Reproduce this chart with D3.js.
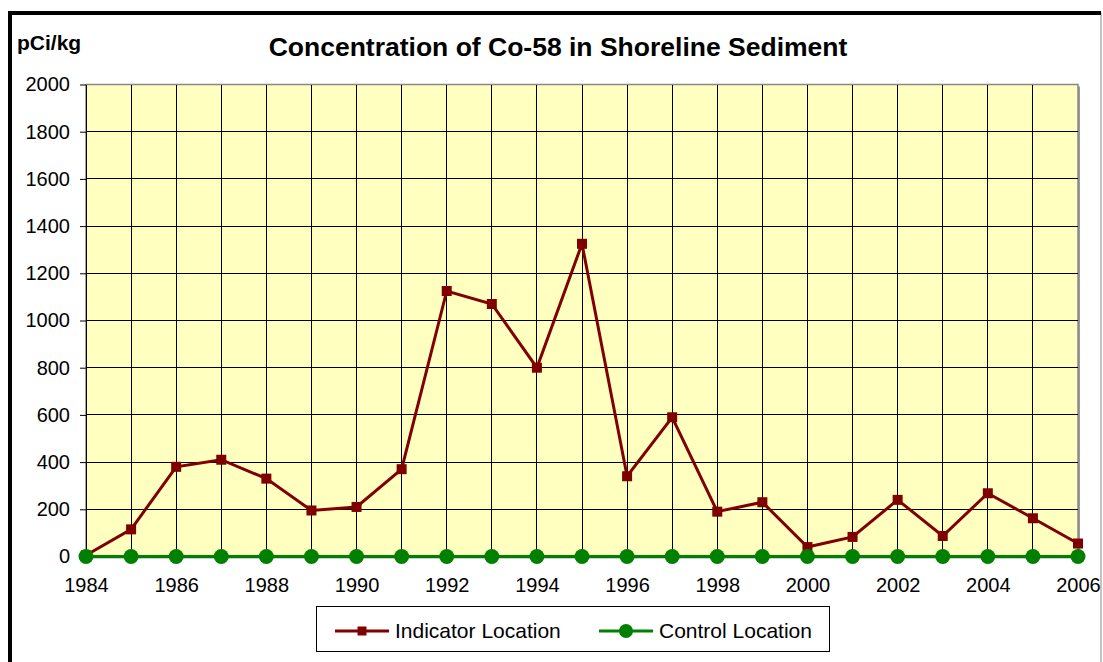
<!DOCTYPE html>
<html>
<head>
<meta charset="utf-8">
<script src="https://cdn.jsdelivr.net/npm/d3@7"></script>
<style>
  body { margin: 0; background: #fff; }
  svg { display: block; font-family: "Liberation Sans", Arial, sans-serif; }
</style>
</head>
<body>
<svg id="chart" width="1103" height="662"></svg>
<script>
const years = d3.range(1984, 2007);
const indicator = [5, 115, 380, 410, 330, 195, 210, 370, 1125, 1070, 800, 1325, 340, 590, 190, 230, 40, 83, 240, 87, 268, 162, 55];
const control = years.map(() => 0);
const yTicks = [0, 200, 400, 600, 800, 1000, 1200, 1400, 1600, 1800, 2000];
const xTicks = d3.range(1984, 2007, 2);

const svg = d3.select('#chart');
const plotL = 86, plotR = 1078, plotT = 84.5, plotB = 556.5;
const FONT = '"Liberation Sans", Arial, sans-serif';

// outer frame
svg.append('rect').attr('x', 10).attr('y', 13).attr('width', 1091).attr('height', 700)
  .attr('fill', 'none').attr('stroke', '#888').attr('stroke-width', 1);
svg.append('line').attr('x1', 10).attr('x2', 1101).attr('y1', 13).attr('y2', 13)
  .attr('stroke', '#000').attr('stroke-width', 4);
svg.append('line').attr('x1', 10).attr('x2', 10).attr('y1', 11).attr('y2', 662)
  .attr('stroke', '#000').attr('stroke-width', 4);

let x = d3.scaleLinear().domain([1984, 2006]).range([plotL, plotR]);
let y = d3.scaleLinear().domain([0, 2000]).range([plotB, plotT]);

// plot area
svg.append('rect').attr('x', plotL + 2).attr('y', plotT + 2).attr('width', plotR - plotL).attr('height', plotB - plotT)
  .attr('fill', '#999');
svg.append('rect').attr('x', plotL).attr('y', plotT).attr('width', plotR - plotL).attr('height', plotB - plotT)
  .attr('fill', '#ffffc0').attr('stroke', '#888').attr('stroke-width', 1.5);

// grid
svg.append('g').selectAll('line').data(years.slice(1, -1)).enter().append('line')
  .attr('x1', d => x(d)).attr('x2', d => x(d)).attr('y1', plotT).attr('y2', plotB)
  .attr('stroke', '#000').attr('stroke-width', 1).attr('shape-rendering', 'crispEdges');
svg.append('g').selectAll('line').data(yTicks.slice(1, -1)).enter().append('line')
  .attr('x1', plotL).attr('x2', plotR).attr('y1', d => y(d)).attr('y2', d => y(d))
  .attr('stroke', '#000').attr('stroke-width', 1).attr('shape-rendering', 'crispEdges');

// axes
let yAxis = svg.append('g').attr('transform', `translate(${plotL},0)`)
  .call(d3.axisLeft(y).tickValues(yTicks).tickSize(6).tickSizeOuter(0).tickPadding(10).tickFormat(d3.format('d')));
yAxis.attr('font-family', FONT).attr('font-size', 20);
yAxis.select('.domain').attr('stroke', '#000');
yAxis.selectAll('text').attr('fill', '#000');

let xAxis = svg.append('g').attr('transform', `translate(0,${plotB})`)
  .call(d3.axisBottom(x).tickValues(years).tickSize(0).tickPadding(21).tickFormat(d => xTicks.includes(d) ? d : ''));
xAxis.attr('font-family', FONT).attr('font-size', 20);
xAxis.select('.domain').remove();
xAxis.selectAll('text').attr('fill', '#000');

// series
let line = d3.line().x((d, i) => x(years[i])).y(d => y(d));

svg.append('path').datum(indicator).attr('d', line)
  .attr('fill', 'none').attr('stroke', '#800000').attr('stroke-width', 3);
svg.append('g').selectAll('rect').data(indicator).enter().append('rect')
  .attr('x', (d, i) => x(years[i]) - 5).attr('y', d => y(d) - 5)
  .attr('width', 10).attr('height', 10).attr('fill', '#800000');

svg.append('path').datum(control).attr('d', line)
  .attr('fill', 'none').attr('stroke', '#008000').attr('stroke-width', 3);
svg.append('g').selectAll('circle').data(control).enter().append('circle')
  .attr('cx', (d, i) => x(years[i])).attr('cy', d => y(d)).attr('r', 7.5).attr('fill', '#008000');

// titles
svg.append('text').attr('x', 558).attr('y', 56).attr('text-anchor', 'middle')
  .attr('font-size', 26.5).attr('font-weight', 'bold').text('Concentration of Co-58 in Shoreline Sediment');
svg.append('text').attr('x', 17).attr('y', 50)
  .attr('font-size', 21).attr('font-weight', 'bold').text('pCi/kg');

// legend
let legend = svg.append('g');
legend.append('rect').attr('x', 316.5).attr('y', 606.5).attr('width', 513).attr('height', 45)
  .attr('fill', '#fff').attr('stroke', '#000').attr('stroke-width', 1);
let items = [
  { name: 'Indicator Location', color: '#800000', shape: 'square', x: 335 },
  { name: 'Control Location', color: '#008000', shape: 'circle', x: 599 }
];
items.forEach(it => {
  let g = legend.append('g');
  g.append('line').attr('x1', it.x).attr('x2', it.x + 54).attr('y1', 631).attr('y2', 631)
    .attr('stroke', it.color).attr('stroke-width', 3);
  if (it.shape === 'square') {
    g.append('rect').attr('x', it.x + 22.5).attr('y', 626.5).attr('width', 9).attr('height', 9).attr('fill', it.color);
  } else {
    g.append('circle').attr('cx', it.x + 27).attr('cy', 631).attr('r', 7).attr('fill', it.color);
  }
  g.append('text').attr('x', it.x + 60).attr('y', 638).attr('font-size', 21).text(it.name);
});
</script>
</body>
</html>
